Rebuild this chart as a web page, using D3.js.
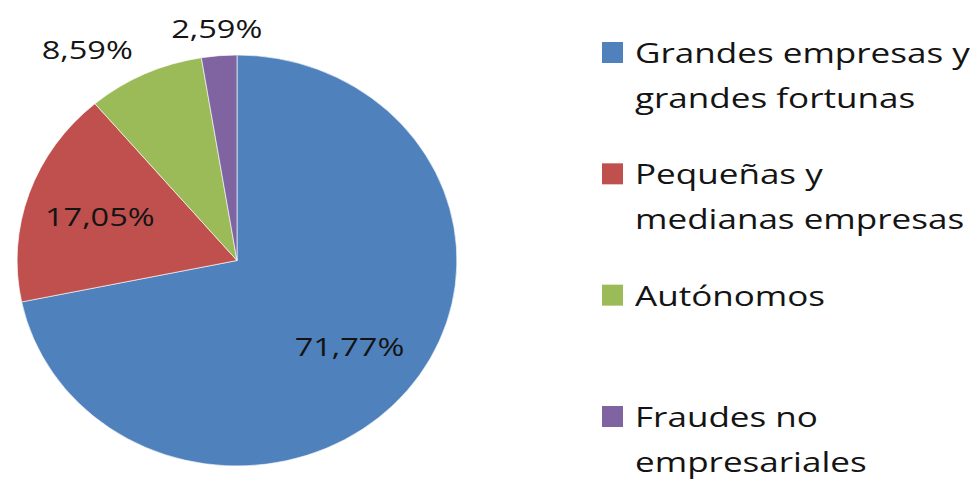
<!DOCTYPE html>
<html>
<head>
<meta charset="utf-8">
<script src="https://cdn.jsdelivr.net/npm/d3@7"></script>
<style>
  html, body { margin: 0; padding: 0; background: #fff; }
  svg { display: block; }
</style>
</head>
<body>
<div id="pie"></div>
<script>
const categories = [
  "Grandes empresas y grandes fortunas",
  "Pequeñas y medianas empresas",
  "Autónomos",
  "Fraudes no empresariales"
];
const legendLines = [
  ["Grandes empresas y", "grandes fortunas"],
  ["Pequeñas y", "medianas empresas"],
  ["Autónomos"],
  ["Fraudes no", "empresariales"]
];
const shares = [71.77, 17.05, 8.59, 2.59];
const colors = ["#4f81bd", "#c0504d", "#9bbb59", "#8064a2"];

(function () {
  const width = 974, height = 484;
  // the original picture is a little wider than tall, so stretch everything
  const stretch = 1.07;
  // and the lettering is wider still than the font we have
  const textStretch = 1.17;
  const radius = 205.5;
  const cx = 237 / stretch, cy = 260.5;
  const fontFamily = "'Open Sans', 'Noto Sans', sans-serif";
  const textColor = "#141414";

  const data = categories.map((c, i) => ({ name: c, value: shares[i], lines: legendLines[i] }));

  const color = d3.scaleOrdinal().domain(categories).range(colors);
  const fmt = v => d3.format(".2f")(v).replace(".", ",") + "%";

  const svg = d3.select("#pie")
    .append("svg")
    .attr("width", width)
    .attr("height", height)
    .attr("viewBox", `0 0 ${width} ${height}`);

  const root = svg.append("g")
    .attr("transform", `scale(${stretch},1)`);

  const g = root.append("g")
    .attr("transform", `translate(${cx},${cy})`);

  const pie = d3.pie()
    .value(d => d.value)
    .sort(null);

  const arc = d3.arc()
    .innerRadius(0)
    .outerRadius(radius);

  const insideArc = d3.arc()
    .innerRadius(radius * 0.66)
    .outerRadius(radius * 0.66);

  const outsideArc = d3.arc()
    .innerRadius(radius * 1.13)
    .outerRadius(radius * 1.13);

  const arcs = pie(data);

  g.selectAll("path")
    .data(arcs)
    .join("path")
    .attr("d", arc)
    .attr("fill", d => color(d.data.name))
    .attr("stroke", "#fff")
    .attr("stroke-width", 0.6);

  // big slices get the label inside, small ones outside the rim
  const isInside = d => d.endAngle - d.startAngle > 0.12 * 2 * Math.PI;

  g.selectAll(".slice-label")
    .data(arcs)
    .join("g")
    .attr("class", "slice-label")
    .attr("transform", d => `translate(${(isInside(d) ? insideArc : outsideArc).centroid(d)}) scale(${textStretch},1)`)
    .append("text")
    .attr("dy", "0.36em")
    .attr("text-anchor", d => {
      if (isInside(d)) return "middle";
      const mid = (d.startAngle + d.endAngle) / 2;
      const s = Math.sin(mid);
      if (Math.abs(s) < 0.2) return "middle";
      return s < 0 ? "end" : "start";
    })
    .attr("font-family", fontFamily)
    .attr("font-size", 26)
    .attr("fill", textColor)
    .text(d => fmt(d.data.value));

  // legend
  const legendY = d3.scalePoint()
    .domain(categories)
    .range([63, 427]);

  const swatch = 21;
  const legend = root.append("g")
    .attr("transform", `translate(${602 / stretch},0)`);

  const item = legend.selectAll(".legend-item")
    .data(data)
    .join("g")
    .attr("class", "legend-item")
    .attr("transform", d => `translate(0,${legendY(d.name)})`);

  item.append("rect")
    .attr("x", 0)
    .attr("y", -swatch)
    .attr("width", swatch / stretch)
    .attr("height", swatch)
    .attr("fill", d => color(d.name));

  item.append("g")
    .attr("transform", `translate(${33 / stretch},0) scale(${textStretch},1)`)
    .append("text")
    .attr("font-family", fontFamily)
    .attr("font-size", 28)
    .attr("fill", textColor)
    .selectAll("tspan")
    .data(d => d.lines)
    .join("tspan")
    .attr("x", 0)
    .attr("y", (d, i) => i * 45)
    .text(d => d);
})();
</script>
</body>
</html>
